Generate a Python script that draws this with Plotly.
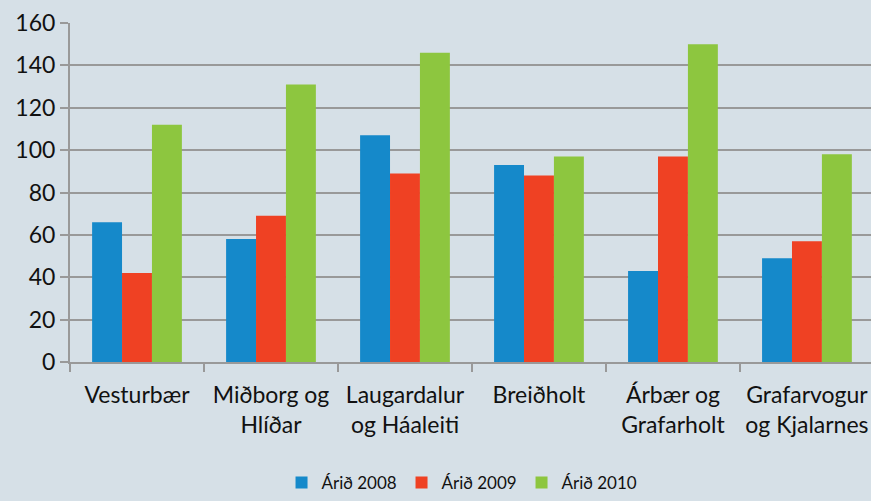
import plotly.graph_objects as go

categories = ["Vesturbær", "Miðborg og<br>Hlíðar", "Laugardalur<br>og Háaleiti", "Breiðholt",
              "Árbær og<br>Grafarholt", "Grafarvogur<br>og Kjalarnes"]
series_names = ["Árið 2008", "Árið 2009", "Árið 2010"]
v2008 = [66, 58, 107, 93, 43, 49]
v2009 = [42, 69, 89, 88, 97, 57]
v2010 = [112, 131, 146, 97, 150, 98]
y_ticks = [0, 20, 40, 60, 80, 100, 120, 140, 160]

colors = ["#1589CA", "#EF4123", "#8DC63F"]
bg = "#D6E0E7"
font_family = "Lato, 'Open Sans', sans-serif"

fig = go.Figure()
for name, vals, c in zip(series_names, [v2008, v2009, v2010], colors):
    fig.add_trace(go.Bar(x=categories, y=vals, name=name, marker=dict(color=c, line=dict(width=0))))

fig.update_layout(
    width=871, height=501,
    paper_bgcolor=bg, plot_bgcolor=bg,
    margin=dict(l=70, r=0, t=23, b=139, autoexpand=False),
    barmode="group", bargap=0.33, bargroupgap=0,
    font=dict(family=font_family, size=23, color="#111111"),
    showlegend=True,
    legend=dict(orientation="h", x=0.4888, xanchor="center", y=-0.41, yanchor="bottom",
                font=dict(size=17), bgcolor="rgba(0,0,0,0)", traceorder="normal",
                itemwidth=30, entrywidth=75),
    xaxis=dict(range=[-0.5, 5.478], showline=True, linecolor="#999999", linewidth=2,
               ticks="outside", tickson="boundaries", ticklen=8, tickcolor="#999999", tickwidth=2,
               showgrid=False, tickfont=dict(size=23), ticklabelstandoff=11, automargin=False),
    yaxis=dict(range=[0, 160], tickvals=y_ticks, showline=True, linecolor="#999999", linewidth=2,
               ticks="outside", ticklen=8, tickcolor="#999999", tickwidth=2,
               showgrid=True, gridcolor="#999999", gridwidth=2, zeroline=False,
               tickfont=dict(size=23), automargin=False),
)

fig.write_html("out.html", config={"displayModeBar": False},
               post_script="document.body.style.margin='0';document.body.style.background='#D6E0E7';")
